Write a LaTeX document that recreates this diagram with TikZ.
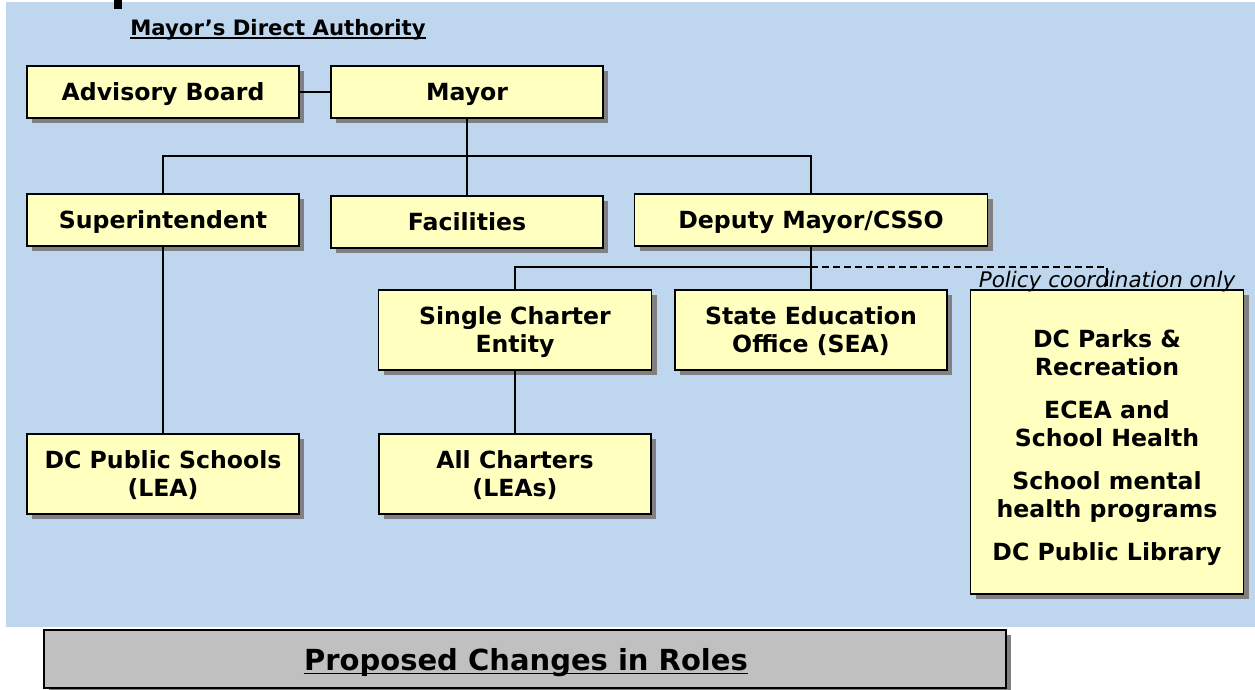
\documentclass[tikz,border=0pt]{standalone}
\usepackage{fontspec}
\setmainfont{DejaVu Sans}
\usetikzlibrary{shadows}
\definecolor{bgblue}{RGB}{190,215,238}
\definecolor{boxyellow}{RGB}{255,255,192}
\definecolor{shadowgray}{RGB}{128,128,128}
\definecolor{boxgray}{RGB}{192,192,192}
\tikzset{
 orgbox/.style={draw=black, line width=1.8pt, fill=boxyellow, inner sep=0pt, align=center,
   font=\fontsize{23.6}{28}\selectfont\bfseries, text depth=0pt,
   drop shadow={shadow xshift=5pt, shadow yshift=-5pt, fill=shadowgray, opacity=1}},
 boxtext/.style={inner sep=0pt, align=center, font=\fontsize{23.6}{28}\selectfont\bfseries},
 wire/.style={line width=1.8pt},
 dwire/.style={line width=1.5pt, dash pattern=on 7pt off 4pt},
 ulrule/.style={line width=1.5pt},
}
\begin{document}
\begin{tikzpicture}[x=1pt,y=-1pt]
\useasboundingbox (0,0) rectangle (1255,689);
\fill[bgblue] (6,2) rectangle (1255,627);
\fill[black] (114,0) rectangle (122,9);

\node[inner sep=0pt, font=\fontsize{21.2}{25}\selectfont\bfseries, anchor=base] (title) at (278,35) {Mayor’s Direct Authority};
\draw[ulrule] ([yshift=-3pt]title.base west) -- ([yshift=-3pt]title.base east);

\node[orgbox, minimum width=272pt, minimum height=52pt] (adv) at (163,92) {Advisory Board};
\node[orgbox, minimum width=272pt, minimum height=52pt] (mayor) at (467,92) {Mayor};
\node[orgbox, minimum width=272pt, minimum height=52pt] (sup) at (163,220) {Superintendent};
\node[orgbox, minimum width=272pt, minimum height=52pt] (fac) at (467,222) {Facilities};
\node[orgbox, minimum width=353pt, minimum height=52pt] (dep) at (811,220) {Deputy Mayor/CSSO};
\node[orgbox, minimum width=273pt, minimum height=80pt] (sce) at (515,330) {Single Charter\\Entity};
\node[orgbox, minimum width=272pt, minimum height=80pt] (sea) at (811,330) {State Education\\Office (SEA)};
\node[orgbox, minimum width=272pt, minimum height=80pt] (dcps) at (163,474) {DC Public Schools\\(LEA)};
\node[orgbox, minimum width=272pt, minimum height=80pt] (allc) at (515,474) {All Charters\\(LEAs)};
\node[orgbox, minimum width=273pt, minimum height=304pt] (pol) at (1107,442) {};
\node[boxtext] (poltext) at (1107,448)
  {DC Parks \&\\Recreation\\[15pt]ECEA and\\School Health\\[15pt]School mental\\health programs\\[15pt]DC Public Library};

\coordinate (j1) at (467,156);
\coordinate (j2) at (811,267);
\draw[wire] (adv) -- (mayor);
\draw[wire] (mayor.south) -- (fac.north);
\draw[wire] (sup.north) |- (j1) -| (dep.north);
\draw[wire] (dep.south) -- (sea.north);
\draw[wire] (sce.north) |- (j2);
\draw[wire] (sce.south) -- (allc.north);
\draw[wire] (sup.south) -- (dcps.north);
\draw[dwire] (j2) -| (pol.north);

\node[inner sep=0pt, font=\fontsize{21.5}{25}\selectfont\itshape, anchor=base] (pc) at (1107,287) {Policy coordination only};

\node[draw=black, line width=1.8pt, fill=boxgray, minimum width=962pt, minimum height=58pt, inner sep=0pt,
  drop shadow={shadow xshift=5pt, shadow yshift=-5pt, fill=shadowgray, opacity=1}] (prop) at (525,659) {};
\node[inner sep=0pt, font=\fontsize{29}{33}\selectfont\bfseries, anchor=base] (ptext) at (526,670) {Proposed Changes in Roles};
\draw[ulrule] ([yshift=-3.5pt]ptext.base west) -- ([yshift=-3.5pt]ptext.base east);
\end{tikzpicture}
\end{document}
